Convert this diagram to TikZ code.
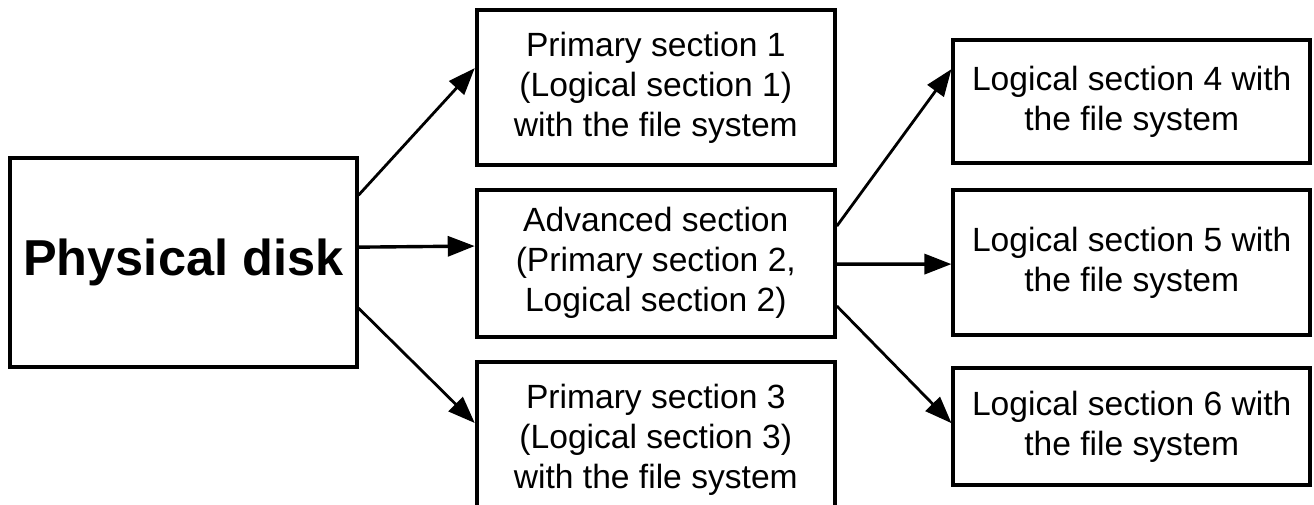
\documentclass[tikz,border=0pt]{standalone}
\usepackage{fontspec}
\setmainfont{Liberation Sans}
\usetikzlibrary{arrows.meta}
\begin{document}
\begin{tikzpicture}[x=1pt,y=-1pt,
  box/.style={draw, line width=3.8pt, inner sep=0pt, align=center, font=\fontsize{33.6}{40}\selectfont},
  conn/.style={line width=2.8pt, -{Triangle[length=27pt,width=20pt]}},
  hconn/.style={conn, line width=3.4pt}]
\useasboundingbox (0,0) rectangle (1314,504);
\clip (0,0) rectangle (1314,504);
\node[box, minimum width=346.7pt, minimum height=208.3pt, font=\fontsize{50.5}{60}\selectfont\bfseries] (pd) at (183.3,262.5) {Physical disk};
\node[box, minimum width=358.3pt, minimum height=155pt] (ps1) at (655.8,87.5) {Primary section 1\\(Logical section 1)\\with the file system};
\node[box, minimum width=358.3pt, minimum height=146.7pt] (adv) at (655.8,263.3) {Advanced section\\(Primary section 2,\\Logical section 2)};
\node[box, minimum width=358.3pt, minimum height=155pt, anchor=north] (ps3) at (655.8,360) {Primary section 3\\(Logical section 3)\\with the file system};
\node[box, minimum width=356.7pt, minimum height=123.3pt] (l4) at (1131.7,101.7) {Logical section 4 with\\the file system};
\node[box, minimum width=356.7pt, minimum height=145pt] (l5) at (1131.7,262.5) {Logical section 5 with\\the file system};
\node[box, minimum width=356.7pt, minimum height=116.7pt] (l6) at (1131.7,426.7) {Logical section 6 with\\the file system};
\draw[conn] ([yshift=-38.7pt]pd.north east) -- ([yshift=-60pt]ps1.north west);
\draw[hconn] ([yshift=-90.7pt]pd.north east) -- ([yshift=-58pt]adv.north west);
\draw[conn] ([yshift=-151.7pt]pd.north east) -- ([yshift=-63pt]ps3.north west);
\draw[conn] ([yshift=-38pt]adv.north east) -- ([yshift=-31pt]l4.north west);
\draw[hconn] ([yshift=-76pt]adv.north east) -- ([yshift=-76pt]l5.north west);
\draw[conn] ([yshift=-118pt]adv.north east) -- ([yshift=-56.7pt]l6.north west);
\end{tikzpicture}
\end{document}
